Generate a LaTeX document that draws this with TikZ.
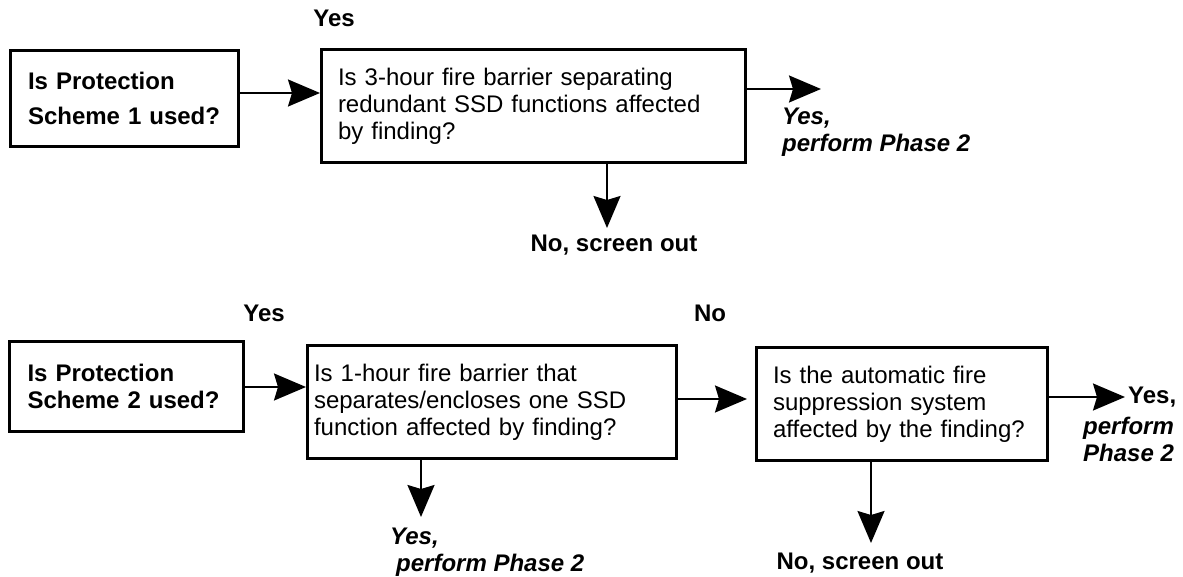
\documentclass[tikz,border=0pt]{standalone}
\usepackage{fontspec}
\setmainfont{Liberation Sans}
\usepackage{tikz}
\usetikzlibrary{arrows.meta, positioning}

\begin{document}
\begin{tikzpicture}[x=1pt, y=-1pt,
    font=\fontsize{24}{27}\selectfont,
    qbox/.style={draw, line width=3pt, rectangle, align=left, inner ysep=0pt},
    flow/.style={-{Stealth[length=32pt, width=27pt, inset=4pt]}, line width=2pt},
    ans/.style={font=\bfseries\itshape\fontsize{24}{27}\selectfont, align=left, inner sep=0pt},
    tag/.style={font=\bfseries\fontsize{24}{27}\selectfont, inner sep=0pt}]
    \useasboundingbox (0,0) rectangle (1183,577);

    \node[qbox, font=\bfseries\fontsize{24}{35}\selectfont, minimum width=228pt, minimum height=96pt,
        text width=193pt, inner xsep=17.5pt] (s1q) at (124.5,98.5) {Is Protection\\Scheme 1 used?};
    \node[qbox, minimum width=424pt, minimum height=113pt, text width=391pt, inner xsep=16.5pt]
        (barr3) at (533.5,106) {Is 3-hour fire barrier separating\\redundant SSD functions affected\\by finding?};

    \node[qbox, font=\bfseries\fontsize{24}{27}\selectfont, minimum width=234pt, minimum height=90pt,
        text width=198pt, inner xsep=18pt] (s2q) at (126.5,386.5) {Is Protection\\Scheme 2 used?};
    \node[qbox, minimum width=369pt, minimum height=113pt, text width=356pt, inner xsep=6.5pt]
        (barr1) at (492,402) {Is 1-hour fire barrier that\\separates/encloses one SSD\\function affected by finding?};
    \node[qbox, minimum width=291pt, minimum height=113pt, text width=258pt, inner xsep=16.5pt]
        (supp) at (902,404) {Is the automatic fire\\suppression system\\affected by the finding?};

    \coordinate (y1tip) at (821,89);
    \coordinate (n1tip) at (607,228);
    \coordinate (y2tip) at (421,517);
    \coordinate (y3tip) at (1125,397);
    \coordinate (n2tip) at (871,543);

    \draw[flow] (s1q.east |- 0,93) -- (barr3.west |- 0,93);
    \draw[flow] (barr3.east |- y1tip) -- (y1tip);
    \draw[flow] (barr3.south -| n1tip) -- (n1tip);

    \draw[flow] (s2q.east |- 0,387) -- (barr1.west |- 0,387);
    \draw[flow] (barr1.south -| y2tip) -- (y2tip);
    \draw[flow, shorten >=8pt] (barr1.east |- 0,399) -- (supp.west |- 0,399);
    \draw[flow] (supp.east |- y3tip) -- (y3tip);
    \draw[flow] (supp.south -| n2tip) -- (n2tip);

    \node[tag] (yes1) at (334,18) {Yes};
    \node[tag] (yes2) at (264,313) {Yes};
    \node[tag] (no2) at (710,313) {No};
    \node[tag] (out1) at (614,245) {No, screen out};
    \node[tag] (out2) at (860,563) {No, screen out};
    \node[ans, anchor=north west] (ph1) at (782,108) {Yes,\\perform Phase 2};
    \node[ans, anchor=north west] (ph2) at (390,528) {Yes,\\\hspace*{6pt}perform Phase 2};
    \node[tag, anchor=west, xshift=3pt] (yes3) at (y3tip) {Yes,};
    \node[ans, anchor=north west] (ph3) at (1083,417) {perform\\Phase 2};
\end{tikzpicture}
\end{document}
